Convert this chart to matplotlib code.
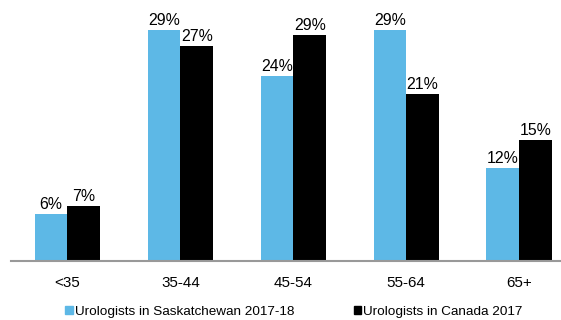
import matplotlib
matplotlib.use("Agg")
import matplotlib.pyplot as plt
from matplotlib.patches import Patch
import numpy as np

plt.rcParams['font.family'] = ['Liberation Sans', 'DejaVu Sans']

categories = ["<35", "35-44", "45-54", "55-64", "65+"]
sask = [6.0, 29.4, 23.6, 29.45, 11.8]
canada = [7.0, 27.3, 28.75, 21.3, 15.4]
series_names = ["Urologists in Saskatchewan 2017-18", "Urologists in Canada 2017"]

blue = "#5DB8E6"
black = "#000000"

fig = plt.figure(figsize=(5.61, 3.20), dpi=100)
ax = fig.add_axes([11/561, 1 - 261/320, 550/561, 261/320])

x = np.arange(len(categories))
w = 0.29
b1 = ax.bar(x - w/2, sask, w, color=blue)
b2 = ax.bar(x + w/2, canada, w, color=black)

for bars, vals in ((b1, sask), (b2, canada)):
    for rect, v in zip(bars, vals):
        ax.text(rect.get_x() + rect.get_width()/2, v + 0.25, f"{round(v)}%",
                ha="center", va="bottom", fontsize=11.4)

ax.set_xlim(-0.5, 4.37)
ax.set_ylim(0, 261/7.86)
ax.set_xticks(x)
ax.set_xticklabels(categories, fontsize=10.9)
ax.tick_params(axis="x", length=0, pad=11)
ax.set_yticks([])
for s in ["top", "right", "left"]:
    ax.spines[s].set_visible(False)
ax.spines["bottom"].set_color("#999999")
ax.spines["bottom"].set_linewidth(1.5)

handles = [Patch(color=blue), Patch(color=black)]
fig.legend(handles, series_names, loc="center", bbox_to_anchor=(294/561, 1 - 312/320), ncol=2,
           frameon=False, fontsize=9.7, handlelength=0.55, handleheight=0.55,
           handletextpad=0.15, columnspacing=4.4)

fig.savefig("out.png", dpi=100)
